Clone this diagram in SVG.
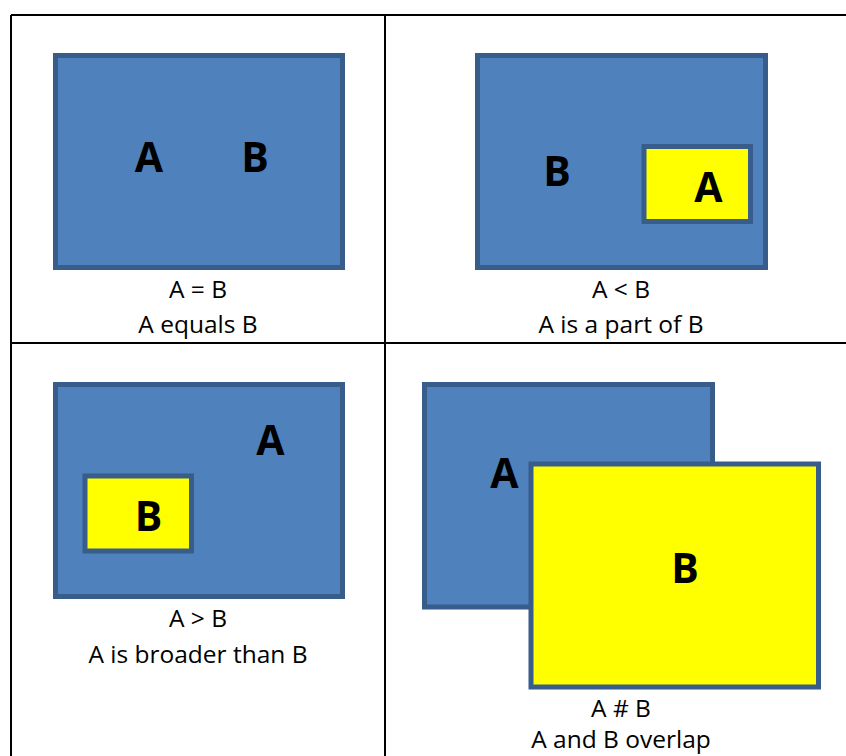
<svg xmlns="http://www.w3.org/2000/svg" width="846" height="756" viewBox="0 0 846 756">
<style>
.tbl{stroke:#000;stroke-width:2;fill:none}
.blue{fill:#4F81BD;stroke:#385D8A;stroke-width:5}
.yel{fill:#FFFF00;stroke:#385D8A;stroke-width:5}
.big{font-family:"Open Sans","Liberation Sans",Arial,sans-serif;font-weight:bold;font-size:41px;fill:#000;text-anchor:middle}
.cap{font-family:"Open Sans","Liberation Sans",Arial,sans-serif;font-size:24.5px;fill:#000;text-anchor:middle}
</style>
<rect width="846" height="756" fill="#fff"/>
<g id="table">
<path class="tbl" d="M11 15H846M11 343H846M11 15V756M385 15V756"/>
</g>
<g id="equals">
<rect class="blue" x="55.5" y="55.5" width="287" height="212"/>
<text class="big" x="149" y="172">A</text>
<text class="big" x="255" y="172">B</text>
<text class="cap" x="198" y="298">A = B</text>
<text class="cap" x="198" y="333">A equals B</text>
</g>
<g id="partof">
<rect class="blue" x="477.5" y="55.5" width="288" height="212"/>
<rect class="yel" x="644" y="146.5" width="106.5" height="75"/>
<text class="big" x="557" y="186">B</text>
<text class="big" x="708.5" y="202">A</text>
<text class="cap" x="621" y="298">A &lt; B</text>
<text class="cap" x="621" y="333">A is a part of B</text>
</g>
<g id="broader">
<rect class="blue" x="55.5" y="384.5" width="287" height="212"/>
<rect class="yel" x="85" y="476" width="106.5" height="75"/>
<text class="big" x="270.5" y="455">A</text>
<text class="big" x="148.5" y="530.5">B</text>
<text class="cap" x="198" y="627">A &gt; B</text>
<text class="cap" x="198" y="663">A is broader than B</text>
</g>
<g id="overlap">
<rect class="blue" x="424.5" y="384.5" width="288" height="222.5"/>
<rect class="yel" x="531" y="464" width="287.5" height="223"/>
<text class="big" x="504.5" y="488">A</text>
<text class="big" x="685" y="582.5">B</text>
<text class="cap" x="621" y="717">A # B</text>
<text class="cap" x="621" y="748">A and B overlap</text>
</g>
</svg>
